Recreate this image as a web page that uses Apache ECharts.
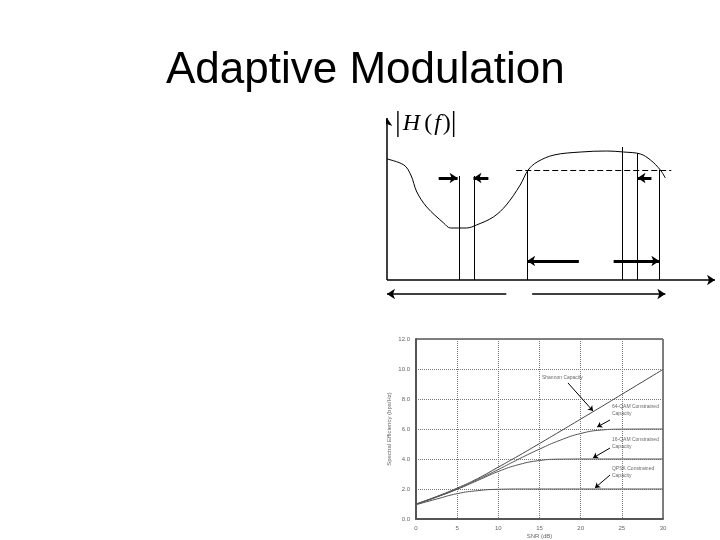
<!DOCTYPE html>
<html>
<head>
<meta charset="utf-8">
<script src="https://cdn.jsdelivr.net/npm/echarts@6/dist/echarts.min.js"></script>
<style>html,body{margin:0;padding:0;background:#fff}#c{width:720px;height:540px}</style>
</head>
<body>
<div id="c"></div>
<script>
// ---- lower chart data (SNR dB vs spectral efficiency) ----
var xTicks = [0, 5, 10, 15, 20, 25, 30];
var yTicks = [0, 2, 4, 6, 8, 10, 12];
var shannon = [[0,1.0],[2.5,1.5],[5,2.06],[7.5,2.7],[10,3.46],[12.5,4.23],[15,5.03],[17.5,5.84],[20,6.66],[22.5,7.48],[25,8.31],[27.5,9.14],[30,9.97]];
var qam64 = [[0,0.98],[2.5,1.47],[5,2.0],[7.5,2.63],[10,3.3],[12.5,4.0],[15,4.66],[17.5,5.25],[20,5.7],[22.5,5.93],[25,5.99],[30,6.0]];
var qam16 = [[0,0.98],[2.5,1.46],[5,1.98],[7.5,2.57],[10,3.17],[12.5,3.63],[15,3.9],[17.5,3.99],[20,4.0],[30,4.0]];
var qpsk = [[0,0.95],[2.5,1.33],[5,1.69],[7.5,1.89],[10,1.98],[12.5,2.0],[30,2.0]];
var annoTexts = [
  [15.3, 9.4, 'Shannon Capacity'],
  [23.8, 7.23, '64-QAM Constrained\nCapacity'],
  [23.8, 5.03, '16-QAM Constrained\nCapacity'],
  [23.8, 3.1, 'QPSK Constrained\nCapacity']
];
var annoArrows = [
  [[18.46, 9.07], [21.5, 7.2]],
  [[23.56, 6.6], [22.0, 6.13]],
  [[23.56, 4.73], [21.5, 4.07]],
  [[23.56, 2.93], [21.74, 2.07]]
];
// ---- upper diagram data (|H(f)| sketch, abstract units) ----
var hCurve = [[0,121],[17,115],[24,105],[30,88],[40,73],[57,57],[64,52],[80,52],[90,55],[107,63],[120,75],[134,95],[142,110],[151,118],[168,125],[195,128],[221,129],[238,128],[255,126],[265,120],[275,110],[280,102]];
var hVerticals = [[73,104],[88,104],[141,110],[237,133],[252,127],[274,110]];
var hThreshold = [[130,110],[286,110]];
var hSmallArrows = [[[52,102],[71,102]], [[102,102],[87,102]], [[266,102],[252,102]]];
var hBandArrows = [[[193,19],[141,19]], [[228,19],[274,19]]];
var hBottomArrows = [[[120,-14],[0,-14]], [[146,-14],[280,-14]]];
var hAxes = [[[0,0],[0,162]], [[0,0],[330,0]]];

function toLines(arr) { return arr.map(function (a) { return { coords: a }; }); }

var chart = echarts.init(document.getElementById('c'), null, { renderer: 'canvas' });
var tickFont = { fontSize: 6, color: '#666', fontFamily: 'Liberation Sans' };
var option = {
  backgroundColor: '#fff',
  animation: false,
  title: {
    text: 'Adaptive Modulation',
    left: 161, top: 44,
    textStyle: { fontSize: 44, fontWeight: 'normal', color: '#000', fontFamily: 'Liberation Sans' }
  },
  graphic: [{
    type: 'text', left: 395, top: 109,
    style: {
      text: '{b||}{i|H}{n|(}{f|f}{n|)}{b||}',
      rich: {
        b: { fontSize: 29, fontFamily: 'Liberation Serif', fill: '#000' },
        i: { fontSize: 24, fontFamily: 'Liberation Serif', fontStyle: 'italic', fill: '#000', padding: [0, 4, 0, 2] },
        f: { fontSize: 24, fontFamily: 'Liberation Serif', fontStyle: 'italic', fill: '#000', padding: [0, 2, 0, 2] },
        n: { fontSize: 24, fontFamily: 'Liberation Serif', fill: '#000' }
      }
    }
  }],
  grid: [
    { left: 416, top: 339, width: 247, height: 180, show: true, borderColor: '#000', borderWidth: 1, backgroundColor: 'transparent' },
    { left: 387, top: 110, width: 335, height: 190, show: false }
  ],
  xAxis: [
    { type: 'value', gridIndex: 0, min: 0, max: 30, interval: 5,
      name: 'SNR (dB)', nameLocation: 'middle', nameGap: 14, nameTextStyle: tickFont,
      axisLine: { lineStyle: { color: '#555', width: 2 } }, axisTick: { show: false },
      axisLabel: Object.assign({ margin: 6 }, tickFont),
      splitLine: { lineStyle: { type: 'dotted', color: '#777' } } },
    { type: 'value', gridIndex: 1, min: 0, max: 335, show: false }
  ],
  yAxis: [
    { type: 'value', gridIndex: 0, min: 0, max: 12, interval: 2,
      name: 'Spectral Efficiency (bps/Hz)', nameLocation: 'middle', nameGap: 24, nameTextStyle: tickFont,
      axisLine: { show: true, lineStyle: { color: '#555', width: 2 } }, axisTick: { show: false },
      axisLabel: Object.assign({ margin: 6, formatter: function (v) { return v.toFixed(1); } }, tickFont),
      splitLine: { lineStyle: { type: 'dotted', color: '#777' } } },
    { type: 'value', gridIndex: 1, min: -20, max: 170, show: false }
  ],
  series: [
    { name: 'Shannon Capacity', type: 'line', data: shannon, smooth: true, symbol: 'none', lineStyle: { color: '#444', width: 1 } },
    { name: '64-QAM', type: 'line', data: qam64, smooth: true, symbol: 'none', lineStyle: { color: '#555', width: 1 } },
    { name: '16-QAM', type: 'line', data: qam16, smooth: true, symbol: 'none', lineStyle: { color: '#555', width: 1 } },
    { name: 'QPSK', type: 'line', data: qpsk, smooth: true, symbol: 'none', lineStyle: { color: '#555', width: 1 } },
    { type: 'scatter', data: annoTexts, symbolSize: 0, silent: true,
      label: { show: true, position: [0, 0], align: 'left', verticalAlign: 'middle', fontSize: 5, lineHeight: 7, color: '#444', fontFamily: 'Liberation Sans',
        formatter: function (p) { return p.data[2]; } } },
    { type: 'lines', coordinateSystem: 'cartesian2d', data: toLines(annoArrows), symbol: ['none', 'arrow'], symbolSize: 5, silent: true,
      lineStyle: { color: '#000', width: 1, opacity: 1, curveness: 0 } },
    // upper diagram
    { type: 'line', xAxisIndex: 1, yAxisIndex: 1, data: hCurve, smooth: 0.35, symbol: 'none', lineStyle: { color: '#000', width: 1 } },
    { type: 'lines', coordinateSystem: 'cartesian2d', xAxisIndex: 1, yAxisIndex: 1, silent: true,
      data: hVerticals.map(function (v) { return { coords: [[v[0], 0], [v[0], v[1]]] }; }),
      lineStyle: { color: '#000', width: 1, opacity: 1, curveness: 0 } },
    { type: 'lines', coordinateSystem: 'cartesian2d', xAxisIndex: 1, yAxisIndex: 1, silent: true,
      data: [{ coords: hThreshold }], lineStyle: { color: '#000', width: 1, type: [6, 3], opacity: 1, curveness: 0 } },
    { type: 'lines', coordinateSystem: 'cartesian2d', xAxisIndex: 1, yAxisIndex: 1, silent: true,
      data: toLines(hSmallArrows), symbol: ['none', 'arrow'], symbolSize: [7, 8],
      lineStyle: { color: '#000', width: 3, opacity: 1, curveness: 0 } },
    { type: 'lines', coordinateSystem: 'cartesian2d', xAxisIndex: 1, yAxisIndex: 1, silent: true,
      data: toLines(hBandArrows), symbol: ['none', 'arrow'], symbolSize: [7, 8],
      lineStyle: { color: '#000', width: 3, opacity: 1, curveness: 0 } },
    { type: 'lines', coordinateSystem: 'cartesian2d', xAxisIndex: 1, yAxisIndex: 1, silent: true,
      data: toLines(hBottomArrows), symbol: ['none', 'arrow'], symbolSize: [6, 8],
      lineStyle: { color: '#000', width: 1.5, opacity: 1, curveness: 0 } },
    { type: 'lines', coordinateSystem: 'cartesian2d', xAxisIndex: 1, yAxisIndex: 1, silent: true,
      data: toLines(hAxes), symbol: ['none', 'arrow'], symbolSize: [5, 8],
      lineStyle: { color: '#000', width: 1.5, opacity: 1, curveness: 0 } }
  ]
};
chart.setOption(option);
</script>
</body>
</html>
